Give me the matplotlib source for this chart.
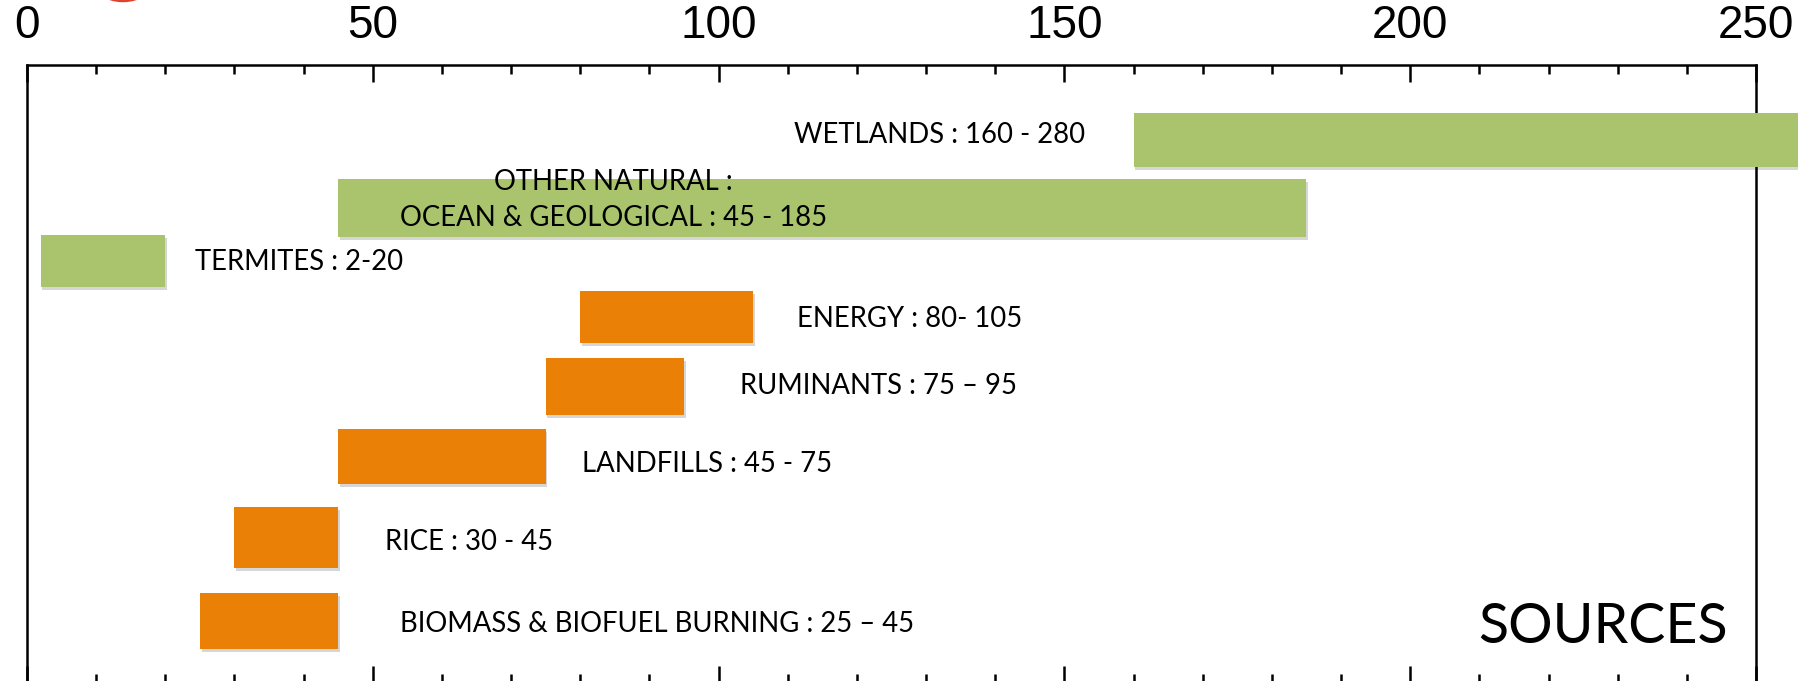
import matplotlib
matplotlib.use("Agg")
import matplotlib.pyplot as plt
from matplotlib.patches import Ellipse
from matplotlib import patheffects as pe

# Methane source ranges (Tg CH4 / yr)
sources = ["WETLANDS", "OTHER NATURAL", "TERMITES", "ENERGY",
           "RUMINANTS", "LANDFILLS", "RICE", "BIOMASS & BIOFUEL BURNING"]
low = [160, 45, 2, 80, 75, 45, 30, 25]
high = [280, 185, 20, 105, 95, 75, 45, 45]
kind = ["natural", "natural", "natural", "human", "human", "human", "human", "human"]
labels = ["WETLANDS : 160 - 280",
          "OTHER NATURAL :\nOCEAN & GEOLOGICAL : 45 - 185",
          "TERMITES : 2-20",
          "ENERGY : 80- 105",
          "RUMINANTS : 75 \u2013 95",
          "LANDFILLS : 45 - 75",
          "RICE : 30 - 45",
          "BIOMASS & BIOFUEL BURNING : 25 \u2013 45"]
xticks_major = [0, 50, 100, 150, 200, 250]

# Layout: row centres / bar thickness (vertical axis runs 0 at top to 618 at bottom)
row_y = [75, 143, 196, 252, 321, 391.5, 472.5, 556]
row_h = [54, 58, 52, 52, 57, 55, 61, 56]
colors = {"natural": "#A9C46C", "human": "#EA8006"}

# label placement: anchor ("low"/"high"), alignment, pixel offsets
label_place = [
    ("low", "right", -48.6, [-3]),
    ("low", "center", 275.0, [18, -18]),
    ("high", "left", 29.7, [-9]),
    ("high", "left", 43.8, [-10]),
    ("high", "left", 56.0, [-8.5]),
    ("high", "left", 35.8, [-15.5]),
    ("high", "left", 46.8, [-12.5]),
    ("high", "left", 61.8, [-11]),
]

W, H, DPI = 1798, 681, 100
fig = plt.figure(figsize=(W / DPI, H / DPI), dpi=DPI)
ax = fig.add_axes([27 / W, -2 / H, (1756 - 27) / W, (683 - 65) / H])
ax.set_xlim(0, 250)
ax.set_ylim(618, 0)

label_font = "Lato"
shadow = [pe.SimplePatchShadow(offset=(1.2, -2.2), shadow_rgbFace="#000000", alpha=0.16),
          pe.Normal()]

for i, name in enumerate(sources):
    ax.barh(row_y[i], high[i] - low[i], left=low[i], height=row_h[i],
            color=colors[kind[i]], zorder=3, clip_on=False,
            path_effects=shadow)
    anchor, ha, dx, dys = label_place[i]
    xa = low[i] if anchor == "low" else high[i]
    lines = labels[i].split("\n")
    for line, dy in zip(lines, dys):
        ax.annotate(line, xy=(xa, row_y[i]), xytext=(dx, dy),
                    textcoords="offset pixels", ha=ha, va="baseline",
                    fontsize=19.8, family=label_font, color="black",
                    zorder=5, annotation_clip=False)

# panel title, placed in display pixels
fig.text(1728 / W, 1 - 643 / H, "SOURCES", fontsize=40, family=label_font,
         ha="right", va="baseline")

# axis styling
for s in ["left", "right", "top", "bottom"]:
    ax.spines[s].set_linewidth(1.8)
    ax.spines[s].set_color("black")
ax.spines["bottom"].set_visible(False)

ax.set_xticks(xticks_major)
ax.set_xticks(range(0, 251, 10), minor=True)
ax.set_yticks([])
ax.xaxis.set_ticks_position("both")
ax.xaxis.set_label_position("top")
ax.tick_params(axis="x", which="both", direction="in", top=True, bottom=True,
               labeltop=True, labelbottom=False, width=1.8, color="black")
ax.tick_params(axis="x", which="major", length=12.2, pad=12, labelsize=33)
ax.tick_params(axis="x", which="minor", length=6.5)
for lab in ax.get_xticklabels():
    lab.set_family("Liberation Sans")

# partial red circle at the very top edge
fig.patches.append(Ellipse((123 / W, 1 + 21.5 / H), 62 / W, 44 / H, fill=False,
                           edgecolor="#E0432B", linewidth=2.5,
                           transform=fig.transFigure, figure=fig))

fig.savefig("out.png", dpi=DPI, facecolor="white")
